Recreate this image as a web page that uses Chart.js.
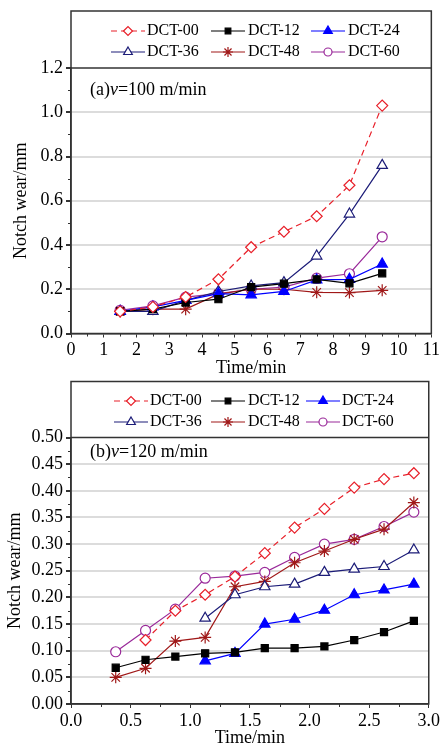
<!DOCTYPE html>
<html>
<head>
<meta charset="utf-8">
<script src="https://cdn.jsdelivr.net/npm/chart.js@4"></script>
<style>
  body { margin: 0; background: #fff; }
  #wrapA { position: absolute; left: 0; top: 0; }
  #wrapB { position: absolute; left: 0; top: 375px; }
</style>
</head>
<body>
<div id="wrapA"><canvas id="chartA" width="442" height="375"></canvas></div>
<div id="wrapB"><canvas id="chartB" width="442" height="370"></canvas></div>
<script>
// series names
const seriesNames = ['DCT-00', 'DCT-12', 'DCT-24', 'DCT-36', 'DCT-48', 'DCT-60'];

// (a) v=100 m/min
const timeA = [1.5, 2.5, 3.5, 4.5, 5.5, 6.5, 7.5, 8.5, 9.5];
const a00 = [0.10, 0.12, 0.165, 0.245, 0.39, 0.46, 0.53, 0.67, 1.03];
const a12 = [0.10, 0.11, 0.14, 0.155, 0.21, 0.225, 0.245, 0.227, 0.272];
const a24 = [0.10, 0.12, 0.15, 0.18, 0.175, 0.19, 0.242, 0.245, 0.314];
const a36 = [0.10, 0.10, 0.15, 0.19, 0.215, 0.23, 0.35, 0.54, 0.76];
const a48 = [0.10, 0.11, 0.11, 0.178, 0.20, 0.20, 0.186, 0.185, 0.195];
const a60 = [0.105, 0.125, 0.164, 0.18, 0.20, 0.21, 0.25, 0.27, 0.437];

// (b) v=120 m/min
const timeB = [0.375, 0.625, 0.875, 1.125, 1.375, 1.625, 1.875, 2.125, 2.375, 2.625, 2.875];
const b00 = [null, 0.120, 0.175, 0.205, 0.239, 0.283, 0.331, 0.366, 0.406, 0.422, 0.433];
const b12 = [0.068, 0.083, 0.089, 0.095, 0.097, 0.105, 0.105, 0.108, 0.120, 0.135, 0.156];
const b24 = [null, null, null, 0.081, 0.095, 0.150, 0.159, 0.176, 0.205, 0.214, 0.225];
const b36 = [null, null, null, 0.161, 0.205, 0.220, 0.225, 0.247, 0.253, 0.258, 0.289];
const b48 = [0.050, 0.067, 0.118, 0.125, 0.220, 0.230, 0.265, 0.287, 0.309, 0.328, 0.378];
const b60 = [0.098, 0.138, 0.178, 0.236, 0.240, 0.247, 0.275, 0.300, 0.309, 0.333, 0.360];

const styles = [
  { color: '#e8202a', point: 'rectRot', fill: '#fff', r: 5.5, dash: [6, 4] },
  { color: '#000000', point: 'rect', fill: '#000', r: 5, dash: [] },
  { color: '#0000ff', point: 'triangle', fill: '#0000ff', r: 6, dash: [] },
  { color: '#1c1c78', point: 'triangle', fill: '#fff', r: 6, dash: [] },
  { color: '#a01818', point: 'star', fill: '#a01818', r: 6, dash: [] },
  { color: '#9a2a9a', point: 'circle', fill: '#fff', r: 5, dash: [] }
];

const SERIF = '"Liberation Serif", "DejaVu Serif", serif';

function makeDatasets(xs, ys) {
  return ys.map((vals, i) => ({
    label: seriesNames[i],
    data: xs.map((x, k) => ({ x: x, y: vals[k] })),
    borderColor: styles[i].color,
    backgroundColor: styles[i].fill,
    borderWidth: 1.2,
    borderDash: styles[i].dash,
    pointStyle: styles[i].point,
    pointRadius: styles[i].r,
    pointBorderWidth: 1.2,
    pointBackgroundColor: styles[i].fill,
    pointBorderColor: styles[i].color,
    tension: 0,
    spanGaps: false
  }));
}

// frame, legend box, minor ticks, panel label
const framePlugin = {
  id: 'frameLegend',
  afterDraw(chart, args, opts) {
    const ctx = chart.ctx;
    const ca = chart.chartArea;
    ctx.save();
    // minor ticks
    ctx.strokeStyle = '#333';
    ctx.lineWidth = 1;
    const xs = chart.scales.x, ys = chart.scales.y;
    for (let v = xs.min + opts.xMinor; v < xs.max; v += opts.xMinor * 2) {
      const px = Math.round(xs.getPixelForValue(v)) + 0.5;
      ctx.beginPath(); ctx.moveTo(px, ca.bottom); ctx.lineTo(px, ca.bottom + 3); ctx.stroke();
    }
    for (let v = ys.min + opts.yMinor; v < ys.max; v += opts.yMinor * 2) {
      const py = Math.round(ys.getPixelForValue(v)) + 0.5;
      ctx.beginPath(); ctx.moveTo(ca.left, py); ctx.lineTo(ca.left - 3, py); ctx.stroke();
    }
    // frame
    ctx.strokeStyle = '#333';
    ctx.lineWidth = 1.5;
    ctx.strokeRect(ca.left, opts.frameTop, ca.right - ca.left, ca.bottom - opts.frameTop);
    ctx.beginPath(); ctx.moveTo(ca.left, ca.top); ctx.lineTo(ca.right, ca.top); ctx.stroke();
    // legend
    ctx.font = '16px ' + SERIF;
    ctx.textBaseline = 'middle';
    ctx.textAlign = 'left';
    chart.data.datasets.forEach((ds, i) => {
      const row = Math.floor(i / 3), col = i % 3;
      const y = opts.rows[row];
      const x0 = opts.cols[col][0], x1 = x0 + 34;
      ctx.strokeStyle = ds.borderColor;
      ctx.lineWidth = 1.2;
      ctx.setLineDash(ds.borderDash);
      ctx.beginPath(); ctx.moveTo(x0, y); ctx.lineTo(x1, y); ctx.stroke();
      ctx.setLineDash([]);
      ctx.fillStyle = ds.pointBackgroundColor;
      ctx.strokeStyle = ds.borderColor;
      Chart.helpers.drawPoint(ctx, { pointStyle: ds.pointStyle, radius: ds.pointRadius - 1, borderWidth: 1.2, rotation: 0 }, (x0 + x1) / 2, y);
      ctx.fillStyle = '#000';
      ctx.fillText(ds.label, opts.cols[col][1], y);
    });
    // panel label: (a)v=100 m/min
    let x = opts.labelX;
    const y = opts.labelY;
    const parts = [[opts.labelPre, false], ['v', true], [opts.labelPost, false]];
    parts.forEach(p => {
      ctx.font = (p[1] ? 'italic ' : '') + '18px ' + SERIF;
      ctx.fillText(p[0], x, y);
      x += ctx.measureText(p[0]).width;
    });
    ctx.restore();
  }
};

function makeOptions(cfg) {
  return {
    responsive: false,
    animation: false,
    layout: { padding: { top: cfg.padTop, right: 9.5, left: 0, bottom: 0 } },
    plugins: {
      legend: { display: false },
      tooltip: { enabled: false },
      frameLegend: cfg.frame
    },
    scales: {
      x: {
        type: 'linear',
        min: cfg.xMin, max: cfg.xMax,
        afterFit: s => { s.height = cfg.xHeight; },
        grid: { color: 'transparent', tickColor: '#333', tickLength: 4, drawOnChartArea: false },
        border: { color: '#333', width: 1.5 },
        ticks: {
          stepSize: cfg.xStep, padding: 2, color: '#000',
          font: { family: SERIF, size: 18 },
          maxRotation: 0,
          callback: v => v.toFixed(cfg.xDec)
        },
        title: {
          display: true, text: 'Time/min', color: '#000',
          font: { family: SERIF, size: 18, lineHeight: 0.8 }, padding: 0
        }
      },
      y: {
        min: 0, max: cfg.yMax,
        afterFit: s => { s.width = 71; },
        grid: {
          color: c => (c.tick.value > 0.0001 && c.tick.value < cfg.yMax - 0.0001) ? '#dcdcdc' : 'transparent',
          lineWidth: 2, tickColor: '#333', tickLength: 5
        },
        border: { color: '#333', width: 1.5 },
        ticks: {
          stepSize: cfg.yStep, padding: 3, color: '#000',
          font: { family: SERIF, size: 18 },
          callback: v => v.toFixed(cfg.yDec)
        },
        title: {
          display: true, text: 'Notch wear/mm', color: '#000',
          font: { family: SERIF, size: 18 }, padding: { top: cfg.yTitlePad, bottom: 0 }
        }
      }
    }
  };
}

new Chart(document.getElementById('chartA').getContext('2d'), {
  type: 'line',
  data: { datasets: makeDatasets(timeA, [a00, a12, a24, a36, a48, a60]) },
  options: makeOptions({
    padTop: 68, xHeight: 41.5, xMin: 0, xMax: 11, xStep: 1, xDec: 0,
    yMax: 1.2, yStep: 0.2, yDec: 1, yTitlePad: 10,
    frame: {
      frameTop: 11, rows: [31, 52],
      cols: [[111, 147], [211, 248], [311, 348]],
      xMinor: 0.5, yMinor: 0.1,
      labelX: 90, labelY: 90, labelPre: '(a)', labelPost: '=100 m/min'
    }
  }),
  plugins: [framePlugin]
});

new Chart(document.getElementById('chartB').getContext('2d'), {
  type: 'line',
  data: { datasets: makeDatasets(timeB, [b00, b12, b24, b36, b48, b60]) },
  options: makeOptions({
    padTop: 62.5, xHeight: 41, xMin: 0, xMax: 3, xStep: 0.5, xDec: 1,
    yMax: 0.5, yStep: 0.05, yDec: 2, yTitlePad: 4,
    frame: {
      frameTop: 6.5, rows: [26, 47],
      cols: [[114, 150], [211, 248], [306, 342]],
      xMinor: 0.25, yMinor: 0.025,
      labelX: 90, labelY: 77, labelPre: '(b)', labelPost: '=120 m/min'
    }
  }),
  plugins: [framePlugin]
});
</script>
</body>
</html>
